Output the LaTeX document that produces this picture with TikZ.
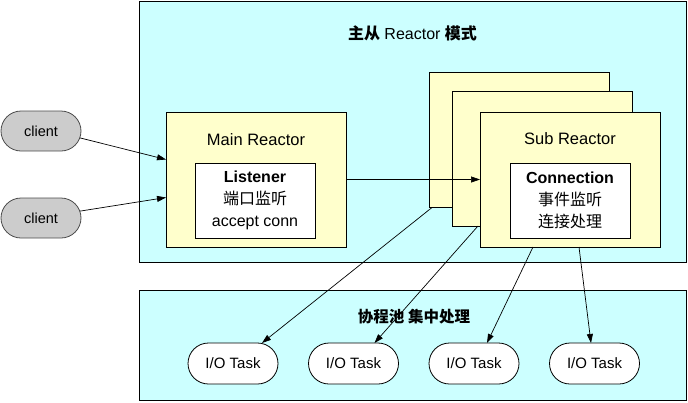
\documentclass[tikz,border=0pt]{standalone}
\usepackage{fontspec}
\setmainfont{Liberation Sans}
\newfontfamily\cjk{Noto Sans CJK SC}
\usetikzlibrary{arrows.meta,shapes.misc}
\definecolor{poolcyan}{RGB}{204,255,255}
\definecolor{reactoryellow}{RGB}{255,255,204}
\definecolor{clientgray}{RGB}{204,204,204}

\begin{document}
\begin{tikzpicture}[
    x=1pt, y=-1pt,
    every node/.style={inner sep=0pt, outer sep=0pt},
    area/.style={rectangle, draw, fill=poolcyan, line width=0.8pt},
    reactor/.style={rectangle, draw, fill=reactoryellow, line width=0.8pt, minimum width=180pt, minimum height=135pt},
    innerbox/.style={rectangle, draw, fill=white, line width=0.8pt, minimum width=120pt, minimum height=75pt, align=center, font=\fontsize{16}{22}\selectfont},
    client/.style={rounded rectangle, draw=black!70, fill=clientgray, line width=0.8pt, minimum width=80pt, minimum height=40pt, font=\fontsize{14.5}{17}\selectfont},
    task/.style={rounded rectangle, draw, fill=white, line width=0.8pt, minimum width=90pt, minimum height=41pt, font=\fontsize{15}{18}\selectfont},
    boxtitle/.style={font=\fontsize{16.5}{20}\selectfont},
    heading/.style={font=\fontsize{16}{20}\selectfont},
    conn/.style={-{Triangle[length=9pt,width=6pt]}, line width=0.7pt}
]

    \useasboundingbox (0,0) rectangle (688,402);

    % Reactor area
    \node[area, minimum width=547pt, minimum height=261pt] (top) at (412.5,131.5) {};
    \node[heading] (toptitle) at (412.5,33) {{\cjk\bfseries 主从} Reactor {\cjk\bfseries 模式}};

    \node[reactor] (mainr) at (256,179.5) {};
    \node[boxtitle] (maintitle) at (256,140) {Main Reactor};
    \node[innerbox] (listener) at (255,200.5) {\textbf{Listener}\\{\cjk 端口监听}\\accept conn};

    % Sub reactors
    \foreach \n/\x/\y in {back/519/140, mid/542/158.5, front/570/179.5}
        \node[reactor] (sub\n) at (\x,\y) {};

    \node[boxtitle] (subtitle) at (570,139) {Sub Reactor};
    \node[innerbox] (connection) at (570,200.5) {\textbf{Connection}\\{\cjk 事件监听}\\{\cjk 连接处理}};

    % Clients
    \foreach \i/\y in {1/131, 2/218}
        \node[client] (client\i) at (41,\y) {client};

    % Pool
    \node[area, minimum width=547pt, minimum height=110.5pt] (pool) at (412.5,345.25) {};
    \node[font=\fontsize{15.5}{19}\selectfont] (pooltitle) at (414,317) {\cjk\bfseries 协程池 集中处理};

    \foreach \i in {1,...,4}
        \node[task] (task\i) at ({233+120.5*(\i-1)},363.5) {I/O Task};

    % Connections
    \draw[conn] (client1.-10) -- ([yshift=20pt]mainr.west);
    \draw[conn] (client2.10) -- ([yshift=-18pt]mainr.west);
    \draw[conn] (mainr.east) -- (subfront.west);

    \draw[conn] ([xshift=3pt]subback.south west) -- ([xshift=29pt]task1.north);
    \draw[conn] ([xshift=26pt]submid.south west) -- ([xshift=21pt]task2.north);
    \draw[conn] ([xshift=-37pt]subfront.south) -- ([xshift=13pt]task3.north);
    \draw[conn] ([xshift=9pt]subfront.south) -- ([xshift=-3.5pt]task4.north);

\end{tikzpicture}
\end{document}
